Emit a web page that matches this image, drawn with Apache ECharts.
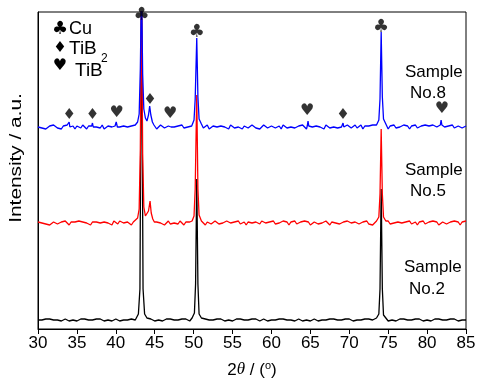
<!DOCTYPE html>
<html><head><meta charset="utf-8">
<script src="https://cdn.jsdelivr.net/npm/echarts@6/dist/echarts.min.js"></script>
<style>html,body{margin:0;padding:0;background:#fff}#c{width:486px;height:388px}</style>
</head><body><div id="c"></div>
<script>
// x ticks
const xTicks = [30,35,40,45,50,55,60,65,70,75,80,85];
const sampleLabels = ["No.8","No.5","No.2"];
// baseline levels (a.u.)
const blueBase = 202, redBase = 106, blackBase = 9;
// baseline noise read every 0.25 deg from 30 to 85
const blueNoise = [
0,2,-1,1,-2,0,1,-1,2,0,-1,1,-2,1,0,2,-1,0,1,-2,
1,0,-1,2,0,-2,1,0,2,-1,0,1,-1,2,-2,0,1,-1,0,2,
-1,1,0,-2,1,2,0,-1,1,0,-2,1,2,-1,0,1,-1,2,0,-1,
1,-2,0,2,1,-1,0,1,-2,2,0,-1,1,0,2,-1,1,0,-2,1,
0,1,-1,2,0,-1,1,2,-2,0,1,-1,0,2,1,-1,0,1,-2,2,
0,-1,1,0,2,-2,1,0,-1,1,2,0,-1,1,-2,0,2,1,-1,0,
1,2,-1,0,1,-2,2,0,-1,1,0,2,-1,0,1,-1,2,0,-2,1,
-1,0,2,1,-1,0,1,-2,2,0,-1,1,0,2,-1,1,0,-2,1,2,
0,-1,1,2,-1,0,2,-2,1,0,1,-1,2,0,-1,1,2,-1,0,1,
-2,1,0,2,-1,1,0,-1,2,0,1,-2,1,0,2,-1,0,1,-1,2,
0,1,-1,2,1,0,-2,1,2,0,-1,1,0,2,-1,0,1,2,-1,0,
1];
const redNoise = [
1,-1,0,2,-1,1,-2,0,1,2,-1,0,1,-1,2,0,-2,1,0,1,
-1,2,0,1,-1,0,2,-2,1,0,1,-1,0,2,1,-1,0,1,-2,2,
0,-1,2,1,0,-1,1,0,-2,1,2,0,-1,1,0,2,-1,1,-2,0,
2,1,-1,0,1,-2,0,2,-1,1,0,1,-1,2,0,-2,1,0,1,-1,
2,0,-1,1,0,2,-2,1,0,-1,1,2,0,-1,1,0,-2,2,1,0,
-1,1,0,2,-1,0,1,-2,1,2,0,-1,1,0,-1,2,1,0,-2,1,
0,2,-1,1,0,-1,2,0,1,-2,1,0,2,-1,0,1,-1,2,0,1,
-2,0,1,2,-1,1,0,-1,2,0,-2,1,1,0,2,-1,0,1,-1,2,
1,0,-2,1,2,-1,0,1,0,2,-1,1,-2,0,1,2,0,-1,1,0,
2,-1,1,0,-2,1,2,0,-1,1,0,2,-1,0,1,-2,1,0,2,-1,
0,1,-1,2,0,1,-2,0,1,2,-1,0,1,-1,2,0,1,-2,1,0,
2];
const blackNoise = [
0,1,0,-1,1,0,1,-1,0,1,0,1,-1,0,1,0,-1,1,0,1,
-1,0,1,0,1,-1,0,1,0,-1,1,0,1,0,-1,1,0,1,-1,0,
1,0,-1,1,0,1,0,-1,1,1,0,-1,0,1,0,1,-1,0,1,0,
-1,1,0,1,-1,0,1,0,1,-1,0,1,0,-1,1,0,1,0,-1,1,
0,1,-1,0,1,0,1,-1,0,1,0,-1,1,0,1,0,-1,1,0,1,
-1,0,1,0,1,-1,0,1,0,-1,1,0,1,1,-1,0,1,0,-1,1,
0,1,0,-1,1,0,1,-1,0,1,0,1,-1,0,1,0,-1,1,0,1,
-1,0,1,0,-1,1,0,1,0,-1,1,0,1,-1,0,1,0,-1,1,0,
1,0,-1,1,0,1,0,-1,1,0,1,-1,0,1,0,1,-1,0,1,0,
-1,1,0,1,-1,0,1,0,1,-1,0,1,0,-1,1,0,1,0,-1,1,
0,1,-1,0,1,0,1,-1,0,1,0,-1,1,0,1,0,-1,1,0,1,
0];
// peaks: [2theta, intensity]
const bluePeaks = [
 [[33.9,203],[34.0,207],[34.1,202]],
 [[36.9,203],[37.0,206],[37.1,202]],
 [[39.9,203],[40.05,207],[40.2,202]],
 [[42.5,204],[42.8,207],[43.0,215],[43.15,260],[43.3,345],[43.45,255],[43.6,220],[43.8,211],[44.0,208],[44.2,214],[44.35,223],[44.5,214],[44.7,207],[44.9,204]],
 [[46.9,203],[47.0,205],[47.1,202]],
 [[49.8,204],[50.05,209],[50.2,230],[50.4,291],[50.55,232],[50.7,210],[51.0,205]],
 [[64.6,203],[64.7,208],[64.8,203]],
 [[69.1,203],[69.2,206],[69.3,202]],
 [[73.5,204],[73.8,209],[73.95,230],[74.1,297],[74.25,232],[74.4,210],[74.7,205]],
 [[81.7,204],[81.8,209],[81.9,204]]
];
const redPeaks = [
 [[42.5,108],[42.8,111],[43.0,120],[43.15,180],[43.3,345],[43.45,175],[43.6,122],[43.8,113],[44.0,112],[44.2,118],[44.4,128],[44.55,116],[44.75,110],[44.95,107]],
 [[49.8,108],[50.05,113],[50.2,140],[50.4,234],[50.55,140],[50.7,114],[51.0,108]],
 [[73.5,108],[73.8,112],[73.95,135],[74.1,200],[74.25,135],[74.4,112],[74.7,108]]
];
const blackPeaks = [
 [[42.6,11],[42.9,15],[43.1,40],[43.3,345],[43.5,40],[43.7,15],[44.0,11]],
 [[49.8,11],[50.1,16],[50.25,45],[50.4,150],[50.55,45],[50.7,15],[51.0,11]],
 [[73.5,11],[73.8,15],[73.95,40],[74.1,140],[74.25,40],[74.4,14],[74.7,11]]
];
// phase marker positions [2theta, intensity]
const cuMarks = [[43.3,314],[50.4,297],[74.1,302]];
const tib2Marks = [[34.0,214],[37.0,214],[44.4,229],[69.2,214]];
const tibMarks = [[40.1,216],[47.0,215],[64.6,218],[81.9,220]];

function build(base, noise, peaks){
  const pts = [];
  const ranges = peaks.map(p => [p[0][0], p[p.length-1][0]]);
  for (let i = 0; i < noise.length; i++) {
    const x = 30 + i*0.25;
    if (x > 85) break;
    if (ranges.some(r => x >= r[0] && x <= r[1])) continue;
    pts.push([x, base + noise[i]]);
  }
  peaks.forEach(p => p.forEach(q => pts.push(q)));
  pts.sort((a,b) => a[0]-b[0]);
  return pts;
}

const FONT = "'Liberation Sans', Arial, sans-serif";
const SYM = "'DejaVu Sans', sans-serif";
const chart = echarts.init(document.getElementById('c'), null, {renderer:'canvas'});
function lineS(name, color, data){
  return {name, type:'line', data, showSymbol:false, clip:true, animation:false,
    lineStyle:{color, width:1.3}, itemStyle:{color}, z:2};
}
function markS(ch, data, size){
  return {type:'scatter', data, symbolSize:1, itemStyle:{color:'rgba(0,0,0,0)'}, animation:false, z:5,
    label:{show:true, position:'inside', formatter:ch, color:'#000', fontSize:size, fontFamily:SYM}};
}
function txt(x, y, s, size, extra){
  return Object.assign({type:'text', x, y, style:{text:s, font:size+'px '+FONT, fill:'#000', textVerticalAlign:'middle'}}, extra||{});
}
function sym(x, y, s, size){
  return {type:'text', x, y, style:{text:s, font:size+'px '+SYM, fill:'#000', textAlign:'center', textVerticalAlign:'middle'}};
}
chart.setOption({
  animation:false,
  grid:{left:38, right:20, top:12, bottom:59, show:true, borderColor:'#000', borderWidth:1},
  xAxis:{type:'value', min:30, max:85, interval:5,
    axisLine:{lineStyle:{color:'#000', width:1}},
    axisTick:{show:true, inside:false, length:5, lineStyle:{color:'#000'}},
    axisLabel:{color:'#000', fontSize:17, fontFamily:FONT, margin:6,
      formatter: v => xTicks.includes(v) ? String(v) : ''},
    splitLine:{show:false}},
  yAxis:{type:'value', min:0, max:317,
    axisLine:{show:true, lineStyle:{color:'#000'}}, axisTick:{show:false},
    axisLabel:{show:false}, splitLine:{show:false}},
  series:[
    lineS('No.2','#000000', build(blackBase, blackNoise, blackPeaks)),
    lineS('No.5','#ff0000', build(redBase, redNoise, redPeaks)),
    lineS('No.8','#0000ff', build(blueBase, blueNoise, bluePeaks)),
    markS('\u2663', cuMarks, 18),
    markS('\u2666', tib2Marks, 15),
    markS('\u2665', tibMarks, 16)
  ],
  graphic:[
    sym(60, 29, '\u2663', 18),
    sym(60, 48, '\u2666', 15),
    sym(60, 66, '\u2665', 16),
    txt(69, 29, 'Cu', 18),
    txt(69, 49, 'TiB', 19),
    txt(101, 59, '2', 12),
    txt(75, 71, 'TiB', 19),
    txt(405, 72, 'Sample', 17),
    txt(410, 93, sampleLabels[0], 17),
    txt(405, 170, 'Sample', 17),
    txt(410, 191, sampleLabels[1], 17),
    txt(404, 267, 'Sample', 17),
    txt(409, 289, sampleLabels[2], 17),
    {type:'text', x:17, y:158, rotation:Math.PI/2, scaleX:1.3,
      style:{text:'Intensity / a.u.', font:'16px '+FONT, fill:'#000', textAlign:'center', textVerticalAlign:'middle'}},
    {type:'text', x:252, y:370,
      style:{text:'{n|2}{i|\u03B8}{n| / (}{s|o}{n|)}', font:'17px '+FONT, fill:'#000', textAlign:'center', textVerticalAlign:'middle',
        rich:{n:{fontSize:17, fontFamily:FONT, fill:'#000'}, i:{fontSize:17, fontFamily:'Liberation Serif, serif', fontStyle:'italic', fill:'#000'},
              s:{fontSize:11, fontFamily:FONT, verticalAlign:'top', padding:[0,0,8,0], fill:'#000'}}}}
  ]
});
</script></body></html>
